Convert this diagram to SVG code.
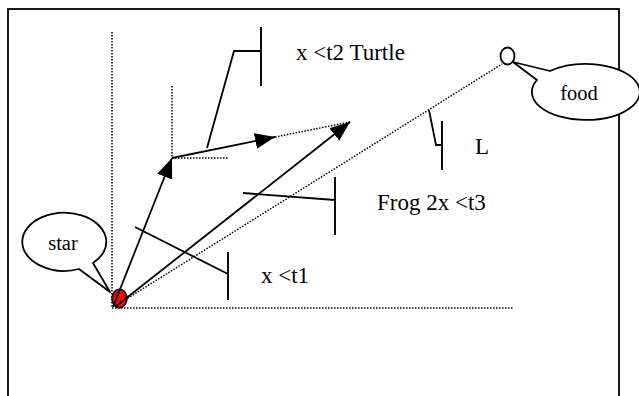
<svg xmlns="http://www.w3.org/2000/svg" width="639" height="396" viewBox="0 0 639 396">
<style>
.solid{fill:none;stroke:#000;stroke-width:1.8}
.bar{fill:none;stroke:#000;stroke-width:1.9}
.dot{fill:none;stroke:#000;stroke-width:1.5;stroke-dasharray:1.5 1.5}
.lbl{font-family:"Liberation Serif","Times New Roman",serif;font-size:23px;fill:#000}
.cl{font-family:"Liberation Serif","Times New Roman",serif;font-size:20.5px;fill:#000}
</style>
<defs>
<marker id="ah" markerUnits="userSpaceOnUse" markerWidth="22" markerHeight="18" refX="20" refY="8" orient="auto">
<path d="M0,0 L20,8 L0,16 z" fill="#000"/>
</marker>
</defs>
<rect width="639" height="396" fill="#fff"/>
<rect id="frame" x="8" y="9" width="611" height="400" fill="none" stroke="#000" stroke-width="1.8"/>
<g id="guides">
<line class="dot" x1="112" y1="32" x2="112" y2="308"/>
<line class="dot" x1="112" y1="308" x2="513" y2="308"/>
<line class="dot" x1="172" y1="86" x2="172" y2="158"/>
<line class="dot" x1="172" y1="158" x2="229" y2="158"/>
</g>
<g id="star-point">
<ellipse cx="119.5" cy="298.5" rx="7.5" ry="9.3" fill="#f00" stroke="#000" stroke-width="1.5"/>
</g>
<g id="connectors">
<line class="dot" x1="120" y1="303" x2="502" y2="64"/>
<line class="dot" x1="275" y1="137" x2="350" y2="122"/>
<line class="solid" x1="113" y1="307" x2="172" y2="158" marker-end="url(#ah)"/>
<line class="solid" x1="172" y1="158" x2="275" y2="137" marker-end="url(#ah)"/>
<line class="solid" x1="115" y1="307" x2="350" y2="122" marker-end="url(#ah)"/>
</g>
<g id="label-turtle">
<polyline class="solid" points="207,148 234,51 261,51"/>
<line class="bar" x1="261" y1="27" x2="261" y2="86"/>
<text class="lbl" x="296" y="60">x &lt;t2 Turtle</text>
</g>
<g id="label-L">
<polyline class="solid" points="429,110 436,145 442,145"/>
<line class="bar" x1="442" y1="121" x2="442" y2="170"/>
<text class="lbl" x="475" y="154">L</text>
</g>
<g id="label-frog">
<line class="solid" x1="243" y1="193" x2="335" y2="200"/>
<line class="bar" x1="335" y1="177" x2="335" y2="235"/>
<text class="lbl" x="377" y="210">Frog 2x &lt;t3</text>
</g>
<g id="label-t1">
<line class="solid" x1="135" y1="227" x2="228" y2="274"/>
<line class="bar" x1="228" y1="252" x2="228" y2="300"/>
<text class="lbl" x="261" y="283">x &lt;t1</text>
</g>
<g id="food-point">
<ellipse cx="507.5" cy="56" rx="7" ry="8.5" fill="#fff" stroke="#000" stroke-width="1.8"/>
</g>
<g id="food">
<path d="M550,71 L513,62 L537,80 A54,28 0 1 0 550,71 Z" fill="#fff" stroke="#000" stroke-width="1.8" stroke-linejoin="round"/>
<text class="cl" x="579" y="100" text-anchor="middle">food</text>
</g>
<g id="star">
<path d="M79,269 L110,292 L93,263 A42,29 0 1 0 79,269 Z" fill="#fff" stroke="#000" stroke-width="1.8" stroke-linejoin="round"/>
<text class="cl" x="63" y="250" text-anchor="middle">star</text>
</g>
</svg>
